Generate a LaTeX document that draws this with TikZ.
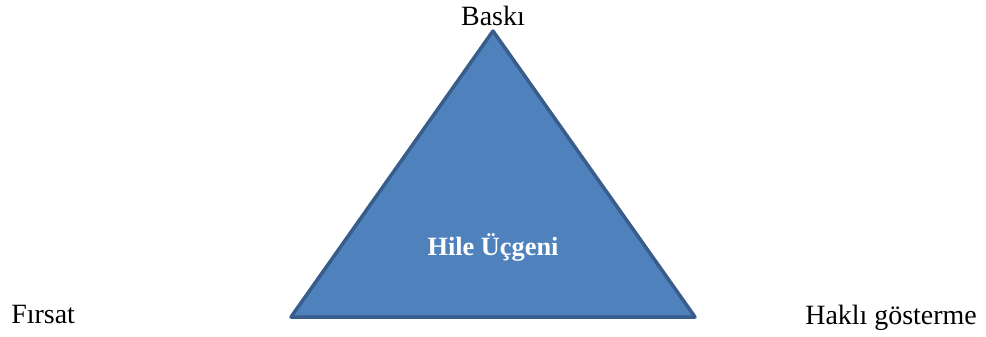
\documentclass[tikz,border=0pt]{standalone}
\usepackage{fontspec}
\setmainfont{Liberation Serif}
\definecolor{triFill}{HTML}{4F81BD}
\definecolor{triLine}{HTML}{385D8A}
\begin{document}
\begin{tikzpicture}[
        x=0.02cm, y=-0.02cm,
        label/.style={inner sep=0pt, font=\fontsize{15.9}{18}\selectfont},
        title/.style={inner sep=0pt, text=white, font=\fontsize{15}{18}\selectfont\bfseries},
        tri/.style={draw=triLine, fill=triFill, line width=2pt, line join=round}
    ]
    \useasboundingbox (0,0) rectangle (986,336);

    % Corners
    \coordinate (top) at (493,31);
    \coordinate (left) at (291,317);
    \coordinate (right) at (695,317);

    % Triangle
    \draw[tri] (top) -- (right) -- (left) -- cycle;
    \node[title, anchor=base] (name) at (493,255) {Hile Üçgeni};

    % Labels
    \node[label, anchor=base] (baski) at (493,25) {Baskı};
    \node[label, anchor=base west] (firsat) at (11,323) {Fırsat};
    \node[label, anchor=base west] (hakli) at (805,324) {Haklı gösterme};

\end{tikzpicture}
\end{document}
